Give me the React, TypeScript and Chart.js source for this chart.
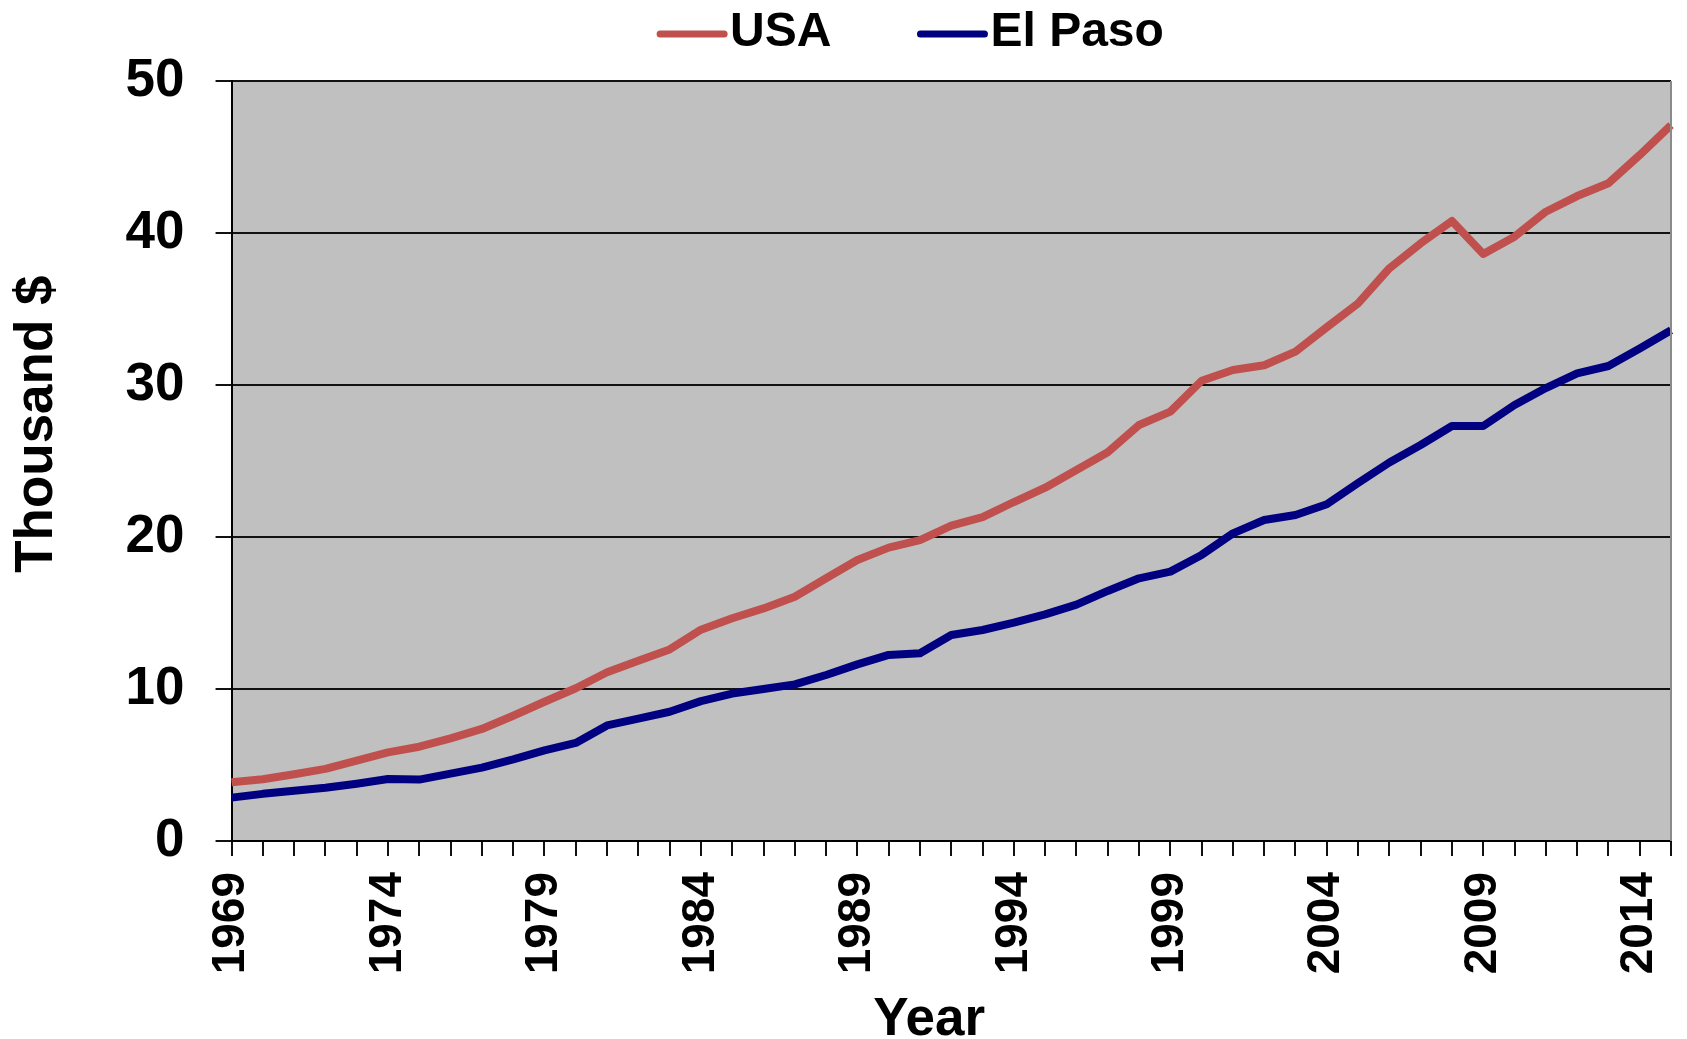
import React, { useEffect, useRef } from "react";
import { Chart, registerables } from "chart.js";

Chart.register(...registerables);

const years: string[] = [
  "1969", "1970", "1971", "1972", "1973", "1974", "1975", "1976", "1977", "1978",
  "1979", "1980", "1981", "1982", "1983", "1984", "1985", "1986", "1987", "1988",
  "1989", "1990", "1991", "1992", "1993", "1994", "1995", "1996", "1997", "1998",
  "1999", "2000", "2001", "2002", "2003", "2004", "2005", "2006", "2007", "2008",
  "2009", "2010", "2011", "2012", "2013", "2014", "2015",
];

const usa: number[] = [
  3.86, 4.06, 4.39, 4.74, 5.28, 5.83, 6.2, 6.75, 7.37, 8.24,
  9.16, 10.05, 11.1, 11.86, 12.6, 13.9, 14.65, 15.3, 16.07, 17.28,
  18.49, 19.3, 19.8, 20.74, 21.3, 22.3, 23.24, 24.4, 25.57, 27.37,
  28.25, 30.28, 30.99, 31.3, 32.2, 33.8, 35.37, 37.68, 39.32, 40.79,
  38.62, 39.76, 41.4, 42.43, 43.27, 45.13, 47.1,
];

const elPaso: number[] = [
  2.85, 3.1, 3.3, 3.5, 3.77, 4.08, 4.04, 4.43, 4.83, 5.37,
  5.96, 6.45, 7.6, 8.05, 8.5, 9.2, 9.7, 10.0, 10.3, 10.92,
  11.62, 12.24, 12.35, 13.55, 13.88, 14.36, 14.91, 15.55, 16.45, 17.28,
  17.72, 18.82, 20.24, 21.12, 21.45, 22.15, 23.55, 24.9, 26.05, 27.3,
  27.3, 28.68, 29.8, 30.77, 31.25, 32.4, 33.6,
];

const seriesNames: string[] = ["USA", "El Paso"];
const seriesColors: string[] = ["#C0504D", "#000080"];
const yMin = 0;
const yMax = 50;
const yStep = 10;
const labelEvery = 5;
const xTitle = "Year";
const yTitle = "Thousand $";

const FONT = "'Liberation Sans', Arial, Helvetica, sans-serif";

const plotBackground = {
  id: "plotBackground",
  beforeDraw(chart: any) {
    const { ctx, chartArea } = chart;
    if (!chartArea) return;
    ctx.save();
    ctx.fillStyle = "#C0C0C0";
    ctx.fillRect(chartArea.left, chartArea.top, chartArea.right - chartArea.left, chartArea.bottom - chartArea.top);
    ctx.restore();
  },
  afterDraw(chart: any) {
    const { ctx, chartArea } = chart;
    if (!chartArea) return;
    ctx.save();
    ctx.strokeStyle = "#8a8a8a";
    ctx.lineWidth = 2;
    ctx.beginPath();
    ctx.moveTo(chartArea.right, chartArea.top);
    ctx.lineTo(chartArea.right, chartArea.bottom);
    ctx.stroke();
    ctx.restore();
  },
};

const lineLegend = {
  id: "lineLegend",
  afterDraw(chart: any) {
    const ctx = chart.ctx;
    ctx.save();
    ctx.font = `bold 48px ${FONT}`;
    const lineLen = 64;
    const textGap = 6;
    const itemGap = 89;
    const items = chart.data.datasets.map((ds: any) => ({
      label: ds.label,
      color: ds.borderColor,
      w: ctx.measureText(ds.label).width,
    }));
    const total =
      items.reduce((s: number, it: any) => s + lineLen + textGap + it.w, 0) +
      itemGap * (items.length - 1);
    let x = 912 - total / 2;
    const y = 34;
    items.forEach((it: any) => {
      ctx.strokeStyle = it.color;
      ctx.lineWidth = 7;
      ctx.lineCap = "round";
      ctx.beginPath();
      ctx.moveTo(x, y);
      ctx.lineTo(x + lineLen, y);
      ctx.stroke();
      x += lineLen + textGap;
      ctx.fillStyle = "#000";
      ctx.textBaseline = "middle";
      ctx.textAlign = "left";
      ctx.fillText(it.label, x, y - 1);
      x += it.w + itemGap;
    });
    ctx.restore();
  },
};

export default function App() {
  const canvasRef = useRef<HTMLCanvasElement | null>(null);

  useEffect(() => {
    document.body.style.margin = "0";
    const canvas = canvasRef.current;
    if (!canvas) return;
    Chart.defaults.font.family = FONT;
    const chart = new Chart(canvas, {
      type: "line",
      data: {
        labels: years,
        datasets: [
          {
            label: seriesNames[0],
            data: usa,
            borderColor: seriesColors[0],
            backgroundColor: seriesColors[0],
            borderWidth: 8,
            pointRadius: 0,
            pointHoverRadius: 0,
            tension: 0,
            borderJoinStyle: "round",
            fill: false,
          },
          {
            label: seriesNames[1],
            data: elPaso,
            borderColor: seriesColors[1],
            backgroundColor: seriesColors[1],
            borderWidth: 8,
            pointRadius: 0,
            pointHoverRadius: 0,
            tension: 0,
            borderJoinStyle: "round",
            fill: false,
          },
        ],
      },
      options: {
        animation: false,
        responsive: true,
        maintainAspectRatio: false,
        layout: { padding: { top: 81, left: 0, right: 0, bottom: 0 } },
        plugins: {
          legend: { display: false },
          tooltip: { enabled: false },
          title: { display: false },
        },
        scales: {
          x: {
            type: "category",
            offset: false,
            grid: {
              display: true,
              drawOnChartArea: false,
              drawTicks: true,
              tickLength: 15,
              color: "#111",
              lineWidth: 2,
            },
            border: { display: true, color: "#000", width: 2 },
            ticks: {
              autoSkip: false,
              minRotation: 90,
              maxRotation: 90,
              padding: 16,
              color: "#000",
              font: { size: 46, weight: "bold", family: FONT, lineHeight: 0 },
              callback: function (this: any, val: any, idx: number) {
                return idx % labelEvery === 0 ? this.getLabelForValue(val) : "";
              },
            },
            title: {
              display: true,
              text: xTitle + "   ",
              color: "#000",
              font: { size: 53, weight: "bold", family: FONT, lineHeight: 0.7 },
              padding: { top: 11.6, bottom: 0 },
            },
          },
          y: {
            min: yMin,
            max: yMax,
            grid: {
              display: true,
              drawOnChartArea: true,
              drawTicks: true,
              tickLength: 16,
              color: "#111",
              lineWidth: 2,
            },
            border: { display: true, color: "#000", width: 2 },
            ticks: {
              stepSize: yStep,
              padding: 31,
              color: "#000",
              font: { size: 53, weight: "bold", family: FONT },
            },
            title: {
              display: true,
              text: "     " + yTitle,
              color: "#000",
              font: { size: 53, weight: "bold", family: FONT, lineHeight: 1.2 },
              padding: { top: 6, bottom: 25 },
            },
          },
        },
      },
      plugins: [plotBackground, lineLegend],
    });
    return () => chart.destroy();
  }, []);

  return (
    <div style={{ width: "1687px", height: "1039px", position: "relative", background: "#fff" }}>
      <canvas ref={canvasRef} />
    </div>
  );
}
